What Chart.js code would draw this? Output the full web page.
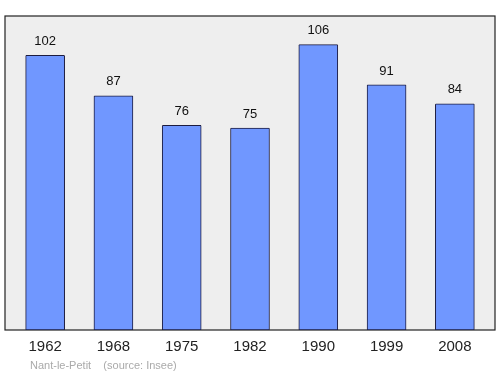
<!DOCTYPE html>
<html><head><meta charset="utf-8">
<script src="https://cdn.jsdelivr.net/npm/chart.js@4/dist/chart.umd.min.js"></script>
<style>html,body{margin:0;padding:0;background:#fff}#w{width:500px;height:374px}</style>
</head><body><div id="w"><canvas id="c"></canvas></div>
<script>
const years = ["1962","1968","1975","1982","1990","1999","2008"];
const population = [102, 87, 76, 75, 106, 91, 84];
const yMax = 116.6;
const sourceText = "Nant-le-Petit    (source: Insee)";

const framePlugin = {
  id: 'frame',
  beforeDatasetsDraw(chart) {
    const {ctx, chartArea: a} = chart;
    ctx.save();
    ctx.fillStyle = '#eeeeee';
    ctx.strokeStyle = '#222222';
    ctx.lineWidth = 1.2;
    const l = a.left - 6, r = a.right + 6;
    ctx.fillRect(l, a.top, r - l, a.bottom - a.top);
    ctx.strokeRect(l, a.top, r - l, a.bottom - a.top);
    ctx.restore();
  },
  afterDatasetsDraw(chart) {
    const {ctx} = chart;
    const meta = chart.getDatasetMeta(0);
    ctx.save();
    ctx.fillStyle = '#111';
    ctx.font = '13px "Liberation Sans", Arial, sans-serif';
    ctx.textAlign = 'center';
    ctx.textBaseline = 'middle';
    meta.data.forEach((el, i) => {
      ctx.fillText(String(population[i]), el.x, el.y - 14);
    });
    ctx.fillStyle = '#aaaaaa';
    ctx.font = '11px "Liberation Sans", Arial, sans-serif';
    ctx.textAlign = 'left';
    ctx.textBaseline = 'alphabetic';
    ctx.fillText(sourceText, 30, 369);
    ctx.restore();
  }
};

new Chart(document.getElementById('c'), {
  type: 'bar',
  data: {
    labels: years,
    datasets: [{
      data: population,
      backgroundColor: '#7097ff',
      borderColor: '#1c1c40',
      borderWidth: 1,
      borderSkipped: false,
      borderRadius: 1,
      barThickness: 39
    }]
  },
  options: {
    responsive: true,
    maintainAspectRatio: false,
    animation: false,
    layout: {padding: {left: 11, right: 11, top: 16, bottom: 10}},
    plugins: {legend: {display: false}, tooltip: {enabled: false}},
    scales: {
      y: {display: false, min: 0, max: yMax},
      x: {
        offset: true,
        grid: {display: false, drawTicks: false},
        border: {display: false},
        ticks: {color: '#222', font: {size: 15, family: '"Liberation Sans", Arial, sans-serif'}, padding: 8}
      }
    }
  },
  plugins: [framePlugin]
});
</script>
</body></html>
